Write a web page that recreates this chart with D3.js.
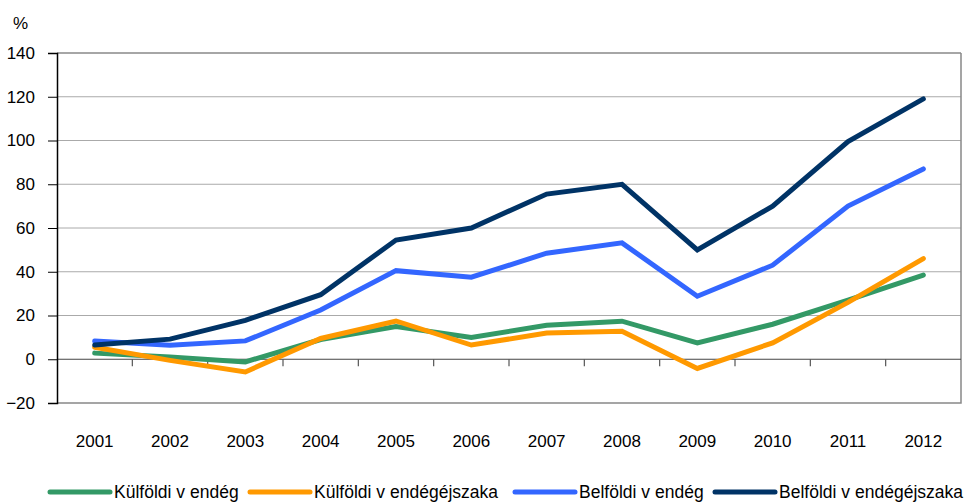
<!doctype html>
<html>
<head>
    <meta charset="utf-8">
    <style>
        body { margin: 0; background: #fff; }
        svg text { font-family: "Liberation Sans", Arial, sans-serif; fill: #000; }
    </style>
    <script src="https://d3js.org/d3.v7.min.js"></script>
</head>
<body>
<script>
    var years = ["2001", "2002", "2003", "2004", "2005", "2006", "2007", "2008", "2009", "2010", "2011", "2012"];
    var kulfoldiVendeg = [2.8, 1, -1.2, 9, 15, 10, 15.5, 17.4, 7.5, 16, 27, 38.5];
    var kulfoldiEjszaka = [5.5, -0.5, -5.8, 9.5, 17.5, 6.5, 12, 12.8, -4.2, 7.5, 26, 46];
    var belfoldiVendeg = [8.3, 6.4, 8.4, 22.5, 40.5, 37.5, 48.5, 53.2, 28.8, 43, 70, 87];
    var belfoldiEjszaka = [6.5, 9.2, 17.8, 29.5, 54.5, 60, 75.5, 80, 50, 70, 99.5, 119];
    var yTicks = [-20, 0, 20, 40, 60, 80, 100, 120, 140];

    var series = [
        { name: ["Külföldi v", "endég"], values: kulfoldiVendeg, color: "#339966" },
        { name: ["Külföldi v", "endégéjszaka"], values: kulfoldiEjszaka, color: "#ff9900" },
        { name: ["Belföldi v", "endég"], values: belfoldiVendeg, color: "#3366ff" },
        { name: ["Belföldi v", "endégéjszaka"], values: belfoldiEjszaka, color: "#003366" }
    ];

    var width = 969, height = 504;
    var plotLeft = 57, plotRight = 961, plotTop = 53, plotBottom = 403;

    var svg = d3.select("body").append("svg")
        .attr("width", width)
        .attr("height", height);

    var x = d3.scaleBand().domain(years).range([plotLeft, plotRight]);
    var y = d3.scaleLinear().domain([-20, 140]).range([plotBottom, plotTop]);

    // gridlines
    svg.append("g").selectAll("line")
        .data(yTicks.filter(function (d) { return d > 0; }))
        .enter().append("line")
        .attr("x1", plotLeft).attr("x2", plotRight)
        .attr("y1", function (d) { return y(d); })
        .attr("y2", function (d) { return y(d); })
        .attr("stroke", function (d) { return d === 140 ? "#888" : "#aaa"; })
        .attr("stroke-width", function (d) { return d === 140 ? 1.5 : 1; });

    // frame right and bottom
    svg.append("path")
        .attr("d", "M" + plotRight + "," + plotTop + "V" + plotBottom + "H" + plotLeft)
        .attr("fill", "none")
        .attr("stroke", "#888")
        .attr("stroke-width", 1.5);

    // zero line with category ticks
    svg.append("line")
        .attr("x1", plotLeft).attr("x2", plotRight)
        .attr("y1", y(0)).attr("y2", y(0))
        .attr("stroke", "#444").attr("stroke-width", 1.2);
    svg.append("g").selectAll("line")
        .data(years.slice(1))
        .enter().append("line")
        .attr("x1", function (d) { return x(d); })
        .attr("x2", function (d) { return x(d); })
        .attr("y1", y(0)).attr("y2", y(0) + 7)
        .attr("stroke", "#555").attr("stroke-width", 1.2);

    // y axis
    var yAxis = d3.axisLeft(y).tickValues(yTicks).tickSize(9).tickPadding(13);
    var gy = svg.append("g")
        .attr("transform", "translate(" + plotLeft + ",0)")
        .call(yAxis);
    gy.select(".domain").attr("stroke", "#000").attr("stroke-width", 1.5);
    gy.selectAll(".tick line").attr("stroke", "#000");
    gy.selectAll("text")
        .style("font-size", "17px")
        .style("font-family", "'Liberation Sans', Arial, sans-serif")
        .attr("fill", "#000");

    // x labels
    svg.append("g").selectAll("text")
        .data(years)
        .enter().append("text")
        .attr("x", function (d) { return x(d) + x.bandwidth() / 2; })
        .attr("y", 447)
        .attr("text-anchor", "middle")
        .style("font-size", "17px")
        .text(function (d) { return d; });

    svg.append("text")
        .attr("x", 13).attr("y", 29)
        .style("font-size", "17px")
        .text("%");

    // lines
    var line = d3.line()
        .x(function (d, i) { return x(years[i]) + x.bandwidth() / 2; })
        .y(function (d) { return y(d); });

    svg.append("g").selectAll("path")
        .data(series)
        .enter().append("path")
        .attr("d", function (d) { return line(d.values); })
        .attr("fill", "none")
        .attr("stroke", function (d) { return d.color; })
        .attr("stroke-width", 5)
        .attr("stroke-linejoin", "miter")
        .attr("stroke-linecap", "round");

    // legend
    var legendX = [50, 250, 515, 715];
    var leg = svg.append("g").selectAll("g")
        .data(series)
        .enter().append("g")
        .attr("transform", function (d, i) { return "translate(" + legendX[i] + ",492)"; });
    leg.append("line")
        .attr("x1", 0).attr("x2", 60)
        .attr("stroke", function (d) { return d.color; })
        .attr("stroke-width", 5)
        .attr("stroke-linecap", "round");
    var lt = leg.append("text")
        .attr("x", 64).attr("y", 6)
        .style("font-size", "17.5px");
    lt.append("tspan").text(function (d) { return d.name[0]; });
    lt.append("tspan").attr("dx", 5).text(function (d) { return d.name[1]; });
</script>
</body>
</html>
